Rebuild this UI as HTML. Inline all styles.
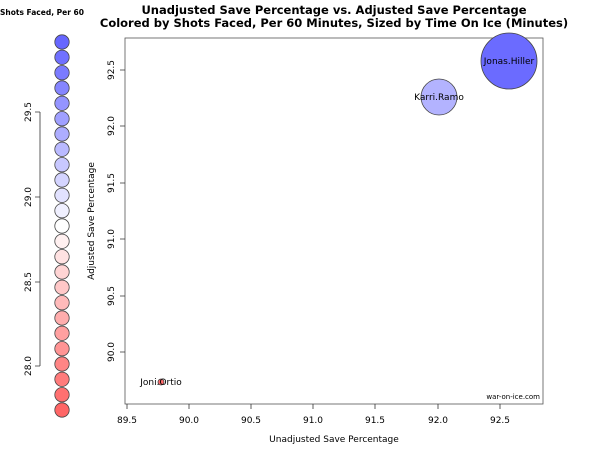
<!DOCTYPE html>
<html><head><style>body{margin:0;background:#fff}</style></head><body>
<svg width="600" height="448" xmlns="http://www.w3.org/2000/svg" font-family="DejaVu Sans, Liberation Sans, sans-serif">
<rect width="600" height="448" fill="#fff"/>
<text x="0" y="15" font-size="7.5" font-weight="bold">Shots Faced, Per 60</text>
<text x="334" y="14" font-size="11.5" font-weight="bold" text-anchor="middle">Unadjusted Save Percentage vs. Adjusted Save Percentage</text>
<text x="334" y="27" font-size="11.5" font-weight="bold" text-anchor="middle">Colored by Shots Faced, Per 60 Minutes, Sized by Time On Ice (Minutes)</text>
<g stroke="#333" stroke-width="0.8">
<script>
</script>
</g>
<g id="leg" stroke="#444" stroke-width="0.8"></g>
<g stroke="#333" fill="none" stroke-width="0.8">
<path d="M40 112V366M40 112H35M40 197H35M40 282H35M40 366H35"/>
</g>
<g font-size="9" text-anchor="middle">
<text transform="translate(31,112) rotate(-90)">29.5</text>
<text transform="translate(31,197) rotate(-90)">29.0</text>
<text transform="translate(31,282) rotate(-90)">28.5</text>
<text transform="translate(31,366) rotate(-90)">28.0</text>
</g>
<rect x="125" y="38" width="418" height="366" fill="none" stroke="#555" stroke-width="0.8"/>
<g stroke="#333" fill="none" stroke-width="0.8">
<path d="M127 404v5M189 404v5M251 404v5M313 404v5M375 404v5M438 404v5M500 404v5"/>
<path d="M125 70h-5M125 126h-5M125 183h-5M125 239h-5M125 296h-5M125 352h-5"/>
</g>
<g font-size="9" text-anchor="middle">
<text x="127" y="423">89.5</text><text x="189" y="423">90.0</text><text x="251" y="423">90.5</text><text x="313" y="423">91.0</text><text x="375" y="423">91.5</text><text x="438" y="423">92.0</text><text x="500" y="423">92.5</text>
<text transform="translate(114,70) rotate(-90)">92.5</text>
<text transform="translate(114,126) rotate(-90)">92.0</text>
<text transform="translate(114,183) rotate(-90)">91.5</text>
<text transform="translate(114,239) rotate(-90)">91.0</text>
<text transform="translate(114,296) rotate(-90)">90.5</text>
<text transform="translate(114,352) rotate(-90)">90.0</text>
<text x="334" y="442">Unadjusted Save Percentage</text>
<text transform="translate(94,221) rotate(-90)">Adjusted Save Percentage</text>
</g>
<circle cx="509" cy="61" r="28" fill="#6b6bff" stroke="#444" stroke-width="0.8"/>
<circle cx="439" cy="97" r="18" fill="#b3b3ff" stroke="#444" stroke-width="0.8"/>
<circle cx="161" cy="382" r="3" fill="#ff6b6b" stroke="#444" stroke-width="0.8"/>
<g font-size="9" text-anchor="middle">
<text x="509" y="64">Jonas.Hiller</text>
<text x="439" y="100">Karri.Ramo</text>
<text x="161" y="385">Joni.Ortio</text>
</g>
<text x="540" y="399" font-size="7" text-anchor="end">war-on-ice.com</text>
<g stroke="#444" stroke-width="0.8">
<circle cx="62" cy="42" r="7.2" fill="#6666ff"/><circle cx="62" cy="57.3" r="7.2" fill="#7070ff"/><circle cx="62" cy="72.7" r="7.2" fill="#7b7bff"/><circle cx="62" cy="88" r="7.2" fill="#8585ff"/><circle cx="62" cy="103.3" r="7.2" fill="#9494ff"/><circle cx="62" cy="118.7" r="7.2" fill="#a0a0ff"/><circle cx="62" cy="134" r="7.2" fill="#adadff"/><circle cx="62" cy="149.3" r="7.2" fill="#babaff"/><circle cx="62" cy="164.7" r="7.2" fill="#c8c8ff"/><circle cx="62" cy="180" r="7.2" fill="#d4d4ff"/><circle cx="62" cy="195.3" r="7.2" fill="#e2e2ff"/><circle cx="62" cy="210.7" r="7.2" fill="#f0f0ff"/><circle cx="62" cy="226" r="7.2" fill="#ffffff"/><circle cx="62" cy="241.3" r="7.2" fill="#fff0f0"/><circle cx="62" cy="256.7" r="7.2" fill="#ffe2e2"/><circle cx="62" cy="272" r="7.2" fill="#ffd4d4"/><circle cx="62" cy="287.3" r="7.2" fill="#ffc8c8"/><circle cx="62" cy="302.7" r="7.2" fill="#ffbaba"/><circle cx="62" cy="318" r="7.2" fill="#ffadad"/><circle cx="62" cy="333.3" r="7.2" fill="#ffa0a0"/><circle cx="62" cy="348.7" r="7.2" fill="#ff9494"/><circle cx="62" cy="364" r="7.2" fill="#ff8585"/><circle cx="62" cy="379.3" r="7.2" fill="#ff7b7b"/><circle cx="62" cy="394.7" r="7.2" fill="#ff7070"/><circle cx="62" cy="410" r="7.2" fill="#ff6666"/>
</g>
</svg>
</body></html>
